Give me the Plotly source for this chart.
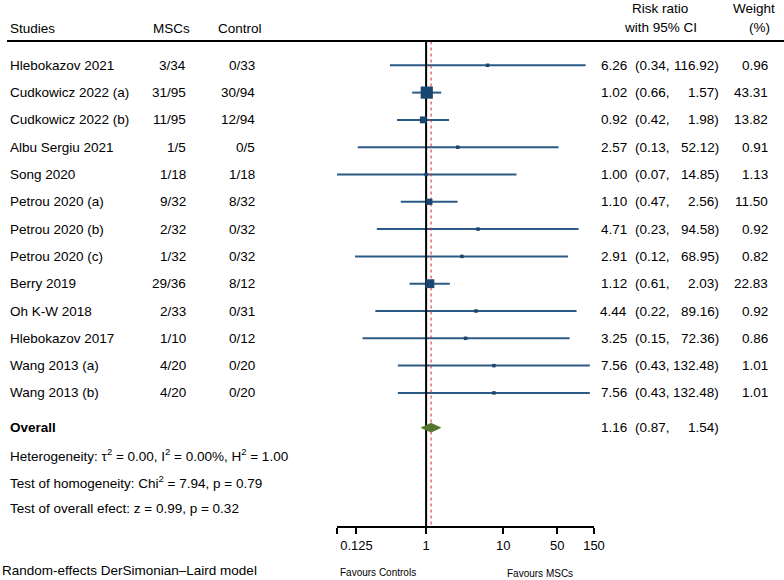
import math
import plotly.graph_objects as go

# ---------------- data ----------------
studies = ["Hlebokazov 2021", "Cudkowicz 2022 (a)", "Cudkowicz 2022 (b)", "Albu Sergiu 2021",
           "Song 2020", "Petrou 2020 (a)", "Petrou 2020 (b)", "Petrou 2020 (c)", "Berry 2019",
           "Oh K-W 2018", "Hlebokazov 2017", "Wang 2013 (a)", "Wang 2013 (b)"]
msc = ["3/34", "31/95", "11/95", "1/5", "1/18", "9/32", "2/32", "1/32", "29/36", "2/33", "1/10", "4/20", "4/20"]
ctrl = ["0/33", "30/94", "12/94", "0/5", "1/18", "8/32", "0/32", "0/32", "8/12", "0/31", "0/12", "0/20", "0/20"]
rr = [6.26, 1.02, 0.92, 2.57, 1.00, 1.10, 4.71, 2.91, 1.12, 4.44, 3.25, 7.56, 7.56]
lo = [0.34, 0.66, 0.42, 0.13, 0.07, 0.47, 0.23, 0.12, 0.61, 0.22, 0.15, 0.43, 0.43]
hi = [116.92, 1.57, 1.98, 52.12, 14.85, 2.56, 94.58, 68.95, 2.03, 89.16, 72.36, 132.48, 132.48]
weight = [0.96, 43.31, 13.82, 0.91, 1.13, 11.50, 0.92, 0.82, 22.83, 0.92, 0.86, 1.01, 1.01]
overall_rr, overall_lo, overall_hi = 1.16, 0.87, 1.54
tick_vals = [0.07, 0.125, 1, 10, 50, 150]
tick_text = [" ", "0.125", "1", "10", "50", "150"]
stats_lines = [
    "Heterogeneity: \u03c4<sup>2</sup> = 0.00, I<sup>2</sup> = 0.00%, H<sup>2</sup> = 1.00",
    "Test of homogeneity: Chi<sup>2</sup> = 7.94, p = 0.79",
    "Test of overall efect: z = 0.99, p = 0.32",
]

# ---------------- layout helpers ----------------
W, H = 784, 580
ROW0, ROWH = 65.3, 27.3        # pixel of first row, row spacing
AXIS_PX = 526.0
X_LEFT_PX, X_RIGHT_PX = 337.0, 594.0

def row_of(px):
    return (px - ROW0) / ROWH

def pap_y(px):
    return 1 - px / H

def pap_x(px):
    return px / W

FONT = "Liberation Sans, Arial, sans-serif"
FS = 13.5
BLACK = "#000000"
NAVY = "#1a476f"
LINEC = "#2b5a84"
GREEN = "#55752f"
RED = "#e8202a"

n = len(studies)
rows = list(range(n))
overall_row = row_of(427.7)
top_row = row_of(41.5)
bottom_row = row_of(AXIS_PX)

fig = go.Figure()

# CI lines
cx, cy = [], []
for i in rows:
    cx += [lo[i], hi[i], None]
    cy += [i, i, None]
fig.add_trace(go.Scatter(x=cx, y=cy, mode="lines", line=dict(color=LINEC, width=2),
                         hoverinfo="skip", showlegend=False))

# null line at 1
fig.add_trace(go.Scatter(x=[1, 1], y=[top_row, bottom_row], mode="lines",
                         line=dict(color=BLACK, width=2), hoverinfo="skip", showlegend=False))
# overall effect line
fig.add_trace(go.Scatter(x=[overall_rr, overall_rr], y=[top_row, bottom_row], mode="lines",
                         line=dict(color=RED, width=1, dash="dot"), hoverinfo="skip", showlegend=False))

# squares sized by weight
sizes = [max(3.5, 1.85 * math.sqrt(w)) for w in weight]
fig.add_trace(go.Scatter(x=rr, y=rows, mode="markers",
                         marker=dict(symbol="square", size=sizes, color=NAVY, opacity=1,
                                     line=dict(width=0)),
                         hoverinfo="skip", showlegend=False))

# overall diamond
dh = 4.3 / ROWH
fig.add_trace(go.Scatter(x=[overall_lo, overall_rr, overall_hi, overall_rr, overall_lo],
                         y=[overall_row, overall_row - dh, overall_row, overall_row + dh, overall_row],
                         mode="lines", fill="toself", fillcolor=GREEN, line=dict(color=GREEN, width=1),
                         hoverinfo="skip", showlegend=False))

ann = []

def add(text, xpx, y, anchor="left", yref="y", size=FS, bold=False):
    if bold:
        text = "<b>" + text + "</b>"
    ann.append(dict(text=text, x=pap_x(xpx), y=y, xref="paper", yref=yref,
                    xanchor=anchor, yanchor="middle", showarrow=False, borderpad=0,
                    font=dict(family=FONT, size=size, color=BLACK)))

# headers
add("Studies", 9, row_of(28))
add("MSCs", 171.5, row_of(28), "center")
add("Control", 240, row_of(28), "center")
add("Risk ratio", 660, row_of(8.5), "center")
add("with 95% CI", 660, row_of(27.5), "center")
add("Weight", 754, row_of(8.5), "center")
add("(%)", 759, row_of(27.5), "center")

for i in rows:
    add(studies[i], 9, i)
    add(msc[i], 187, i, "right")
    add(ctrl[i], 256, i, "right")
    add(f"{rr[i]:.2f}", 628, i, "right")
    add(f"({lo[i]:.2f},", 634, i, "left")
    add(f"{hi[i]:.2f})", 720, i, "right")
    add(f"{weight[i]:.2f}", 769, i, "right")

add("Overall", 9, overall_row, bold=True)
add(f"{overall_rr:.2f}", 628, overall_row, "right")
add(f"({overall_lo:.2f},", 634, overall_row, "left")
add(f"{overall_hi:.2f})", 720, overall_row, "right")

for k, txt in enumerate(stats_lines):
    add(txt, 9, row_of([454.5, 481.5, 508.5][k]))

add("Random-effects DerSimonian\u2013Laird model", 1, pap_y(570), yref="paper")
add("Favours Controls", 377.5, pap_y(572), "center", yref="paper", size=10)
add("Favours MSCs", 539.5, pap_y(573), "center", yref="paper", size=10)

fig.update_layout(
    width=W, height=H,
    margin=dict(l=0, r=0, t=0, b=0),
    paper_bgcolor="white", plot_bgcolor="white",
    annotations=ann,
    shapes=[dict(type="line", xref="paper", yref="paper", x0=pap_x(7), x1=1,
                 y0=pap_y(41), y1=pap_y(41), line=dict(color=BLACK, width=2))],
    xaxis=dict(type="log", domain=[pap_x(X_LEFT_PX), pap_x(X_RIGHT_PX)],
               range=[math.log10(0.07), math.log10(150)],
               tickvals=tick_vals, ticktext=tick_text, tickangle=0,
               ticks="outside", ticklen=6, tickwidth=1.5, tickcolor=BLACK,
               showline=True, linecolor=BLACK, linewidth=2,
               showgrid=False, zeroline=False, automargin=False,
               tickfont=dict(family=FONT, size=13, color=BLACK)),
    yaxis=dict(domain=[pap_y(AXIS_PX), 1], range=[bottom_row, row_of(0)],
               visible=False, showgrid=False, zeroline=False, automargin=False),
)

fig.write_html("out.html", config={"displayModeBar": False},
               post_script="document.body.style.margin='0';document.body.style.overflow='hidden';")
